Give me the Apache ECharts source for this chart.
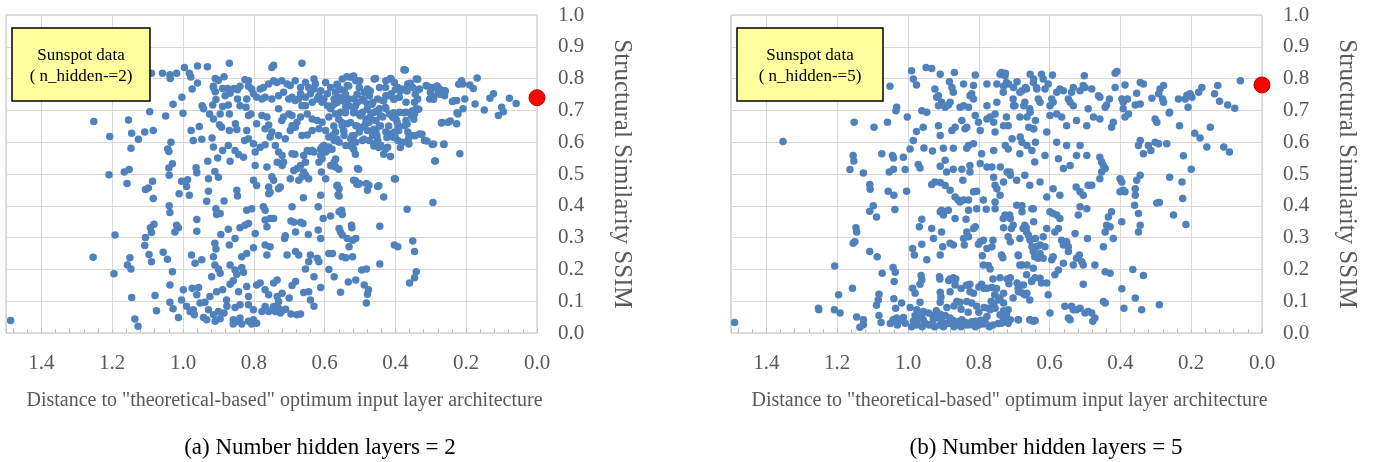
<!DOCTYPE html>
<html>
<head>
<meta charset="utf-8">
<title>SSIM vs distance to optimum input layer</title>
<script src="https://cdn.jsdelivr.net/npm/echarts@6/dist/echarts.min.js"></script>
<style>
html, body { margin: 0; padding: 0; background: #fff; }
#chart { width: 1379px; height: 462px; }
</style>
</head>
<body>
<div id="chart"></div>
<script>
// [distance to optimum, SSIM]
var hidden2Points = [
  [1.089,0.817],[1.058,0.817],[1.037,0.812],[1.036,0.80],[1.018,0.817],[0.996,0.835],[0.982,0.817],[0.978,0.805],[0.959,0.84],[0.931,0.837],
  [0.869,0.848],[0.909,0.80],[0.90,0.795],[0.914,0.776],[0.884,0.806],[0.959,0.786],[0.974,0.767],[0.846,0.765],[0.839,0.776],[0.815,0.776],
  [0.806,0.767],[0.801,0.752],[0.82,0.736],[0.792,0.741],[0.815,0.793],[0.825,0.796],[0.914,0.772],[0.909,0.759],[0.888,0.769],[0.874,0.769],
  [0.867,0.754],[0.856,0.769],
  [1.003,0.741],[1.028,0.719],[0.946,0.715],[0.942,0.705],[0.925,0.689],[0.916,0.717],[0.895,0.689],[0.888,0.712],[0.872,0.717],[0.881,0.746],
  [0.907,0.734],[0.869,0.689],[0.846,0.736],[0.839,0.715],[0.822,0.71],[0.815,0.684],[0.808,0.689],[1.094,0.696],[1.049,0.682],[1.0,0.691],
  [1.252,0.665],[1.154,0.67],[1.207,0.618],[1.145,0.628],[1.108,0.632],[1.084,0.637],[1.126,0.609],[0.977,0.637],[0.954,0.649],[0.971,0.605],
  [0.947,0.609],[0.918,0.613],[0.897,0.655],[0.891,0.647],[0.869,0.637],[0.852,0.658],[0.848,0.64],[0.82,0.637],[0.826,0.605],[0.815,0.611],
  [0.801,0.595],[0.792,0.658],[0.914,0.673],[1.034,0.60],
  [1.147,0.581],[1.043,0.579],[1.04,0.571],[0.914,0.585],[0.888,0.574],[0.872,0.59],[0.853,0.574],[0.843,0.561],[0.829,0.553],[0.796,0.569],
  [0.867,0.54],[0.93,0.54],[0.902,0.55],[0.963,0.52],[0.961,0.504],[0.91,0.508],[0.90,0.49],[0.796,0.527],[1.03,0.532],[1.04,0.519],
  [1.209,0.498],[1.166,0.506],[1.152,0.514],
  [1.158,0.47],[1.106,0.451],[1.098,0.456],[1.086,0.477],[1.084,0.423],[1.039,0.496],[1.004,0.477],[0.987,0.482],[0.99,0.461],[1.011,0.438],
  [0.982,0.433],[0.928,0.485],[0.928,0.446],[0.933,0.414],[0.884,0.415],[0.848,0.449],[0.846,0.431],[0.801,0.48],[0.792,0.464],
  [1.039,0.40],[1.037,0.379],[0.907,0.391],[0.905,0.373],[0.895,0.376],[0.82,0.386],[0.806,0.391],[0.961,0.357],[1.192,0.308],[1.106,0.30],
  [1.089,0.316],[1.082,0.342],[1.092,0.331],[1.023,0.318],[1.018,0.339],[1.013,0.331],[0.961,0.32],[0.872,0.326],[0.893,0.31],[0.839,0.331],
  [0.825,0.339],[0.815,0.344],[0.796,0.313],
  [1.108,0.275],[1.056,0.254],[1.044,0.232],[1.096,0.247],[1.089,0.224],[1.15,0.237],[1.157,0.214],[1.147,0.201],[1.254,0.238],[1.195,0.186],
  [1.03,0.193],[0.976,0.245],[0.966,0.219],[0.947,0.23],[0.91,0.282],[0.907,0.264],[0.869,0.277],[0.853,0.297],[0.834,0.24],[0.82,0.25],
  [0.801,0.268],[0.914,0.24],[0.91,0.214],[0.895,0.188],[0.90,0.201],[0.867,0.214],[0.853,0.198],[0.834,0.206],[0.829,0.191],[0.848,0.185],
  [0.919,0.177],
  [1.037,0.151],[1.145,0.112],[1.079,0.118],[0.999,0.136],[0.974,0.141],[0.961,0.12],[0.956,0.143],[1.004,0.104],[1.037,0.097],[0.952,0.094],
  [0.924,0.115],[0.905,0.13],[0.888,0.136],[0.867,0.153],[0.858,0.164],[0.843,0.13],[0.82,0.146],[0.815,0.115],[0.792,0.151],
  [1.075,0.07],[1.487,0.039],[1.136,0.044],[1.127,0.021],[1.028,0.076],[1.013,0.049],[0.99,0.084],[0.98,0.068],[0.971,0.073],[0.968,0.057],
  [0.942,0.049],[0.933,0.042],[0.928,0.073],[0.914,0.057],[0.90,0.068],[0.895,0.045],[0.884,0.063],[0.876,0.084],[0.877,0.104],[0.909,0.037],
  [0.858,0.042],[0.846,0.037],[0.839,0.047],[0.815,0.037],[0.801,0.042],[0.792,0.031],[0.853,0.08],[0.839,0.089],[0.815,0.089],[0.801,0.073],
  [0.938,0.097],[0.858,0.028],[0.834,0.028],[0.806,0.028],
  [0.782,0.767],[0.773,0.772],[0.758,0.783],[0.744,0.793],[0.735,0.788],[0.721,0.793],[0.706,0.783],[0.697,0.778],[0.683,0.793],[0.668,0.772],
  [0.654,0.788],[0.645,0.772],[0.63,0.799],[0.626,0.783],[0.611,0.762],[0.597,0.788],[0.583,0.772],[0.564,0.778],[0.55,0.799],[0.545,0.762],
  [0.536,0.778],[0.526,0.804],[0.512,0.793],[0.502,0.772],[0.488,0.757],[0.479,0.767],[0.474,0.746],[0.46,0.799],[0.445,0.772],[0.427,0.793],
  [0.412,0.799],[0.403,0.788],[0.393,0.772],[0.384,0.767],[0.374,0.767],[0.365,0.783],[0.351,0.772],[0.341,0.799],[0.332,0.767],[0.313,0.778],
  [0.299,0.772],[0.289,0.772],[0.275,0.767],[0.261,0.762],[0.294,0.741],[0.303,0.736],[0.28,0.752],[0.261,0.746],[0.337,0.736],[0.346,0.726],
  [0.37,0.726],[0.389,0.741],[0.403,0.736],[0.412,0.752],[0.427,0.746],[0.436,0.731],[0.45,0.736],[0.464,0.726],[0.479,0.72],[0.493,0.736],
  [0.507,0.726],[0.517,0.736],[0.531,0.736],[0.55,0.731],[0.559,0.741],[0.573,0.736],[0.592,0.752],[0.607,0.726],[0.621,0.736],[0.635,0.726],
  [0.654,0.715],[0.668,0.752],[0.692,0.741],[0.701,0.736],[0.716,0.757],[0.73,0.746],[0.749,0.736],[0.768,0.741],[0.777,0.736],
  [0.749,0.835],[0.744,0.842],[0.664,0.848],[0.376,0.828],[0.169,0.802],[0.213,0.793],[0.21,0.783],[0.19,0.78],[0.18,0.769],[0.123,0.752],
  [0.133,0.738],[0.078,0.738],[0.059,0.722],[0.10,0.71],[0.095,0.696],[0.109,0.684],[0.149,0.701],[0.175,0.72],[0.204,0.736],[0.227,0.731],
  [0.239,0.728],[0.209,0.705],[0.223,0.689],[0.227,0.658],[0.251,0.663],[0.27,0.66],[0.218,0.564],[0.263,0.593],[0.296,0.593],[0.289,0.541],
  [0.294,0.41],[0.367,0.389],[0.403,0.485],
  [0.777,0.684],[0.763,0.679],[0.758,0.654],[0.73,0.705],[0.716,0.679],[0.721,0.668],[0.701,0.689],[0.692,0.684],[0.683,0.731],[0.673,0.736],
  [0.664,0.715],[0.654,0.741],[0.64,0.752],[0.63,0.767],[0.616,0.746],[0.602,0.736],[0.592,0.715],[0.583,0.705],[0.573,0.72],[0.555,0.694],
  [0.54,0.71],[0.531,0.715],[0.517,0.70],[0.502,0.689],[0.493,0.694],[0.483,0.673],[0.469,0.689],[0.46,0.694],[0.445,0.705],[0.427,0.705],
  [0.417,0.689],[0.408,0.679],[0.398,0.673],[0.389,0.694],[0.37,0.694],[0.355,0.684],[0.346,0.689],[0.341,0.705],[0.37,0.668],[0.374,0.652],
  [0.403,0.632],[0.417,0.626],[0.427,0.632],[0.445,0.652],[0.455,0.632],[0.464,0.621],[0.479,0.637],[0.502,0.632],[0.517,0.621],[0.526,0.611],
  [0.545,0.621],[0.569,0.632],[0.578,0.621],[0.597,0.637],[0.616,0.642],[0.635,0.637],[0.649,0.623],[0.664,0.621],[0.683,0.647],[0.692,0.652],
  [0.678,0.663],[0.668,0.679],[0.649,0.689],[0.635,0.673],[0.621,0.668],[0.607,0.663],[0.588,0.679],[0.569,0.689],[0.55,0.652],[0.536,0.658],
  [0.512,0.652],[0.493,0.647],[0.474,0.663],[0.455,0.668],[0.436,0.679],[0.393,0.652],[0.365,0.632],[0.351,0.621],[0.332,0.626],[0.318,0.605],
  [0.365,0.605],[0.379,0.60],[0.393,0.605],[0.408,0.616],[0.422,0.584],[0.441,0.59],[0.45,0.605],[0.46,0.595],[0.474,0.605],[0.493,0.605],
  [0.512,0.60],[0.526,0.59],[0.54,0.59],[0.559,0.60],[0.573,0.605],[0.588,0.616],[0.602,0.59],[0.611,0.579],[0.597,0.579],[0.635,0.574],
  [0.739,0.59],[0.754,0.616],[0.749,0.632],[0.768,0.642],[0.73,0.621],[0.711,0.611],[0.697,0.637],
  [0.537,0.806],[0.518,0.808],[0.501,0.793],[0.456,0.80],[0.414,0.80],[0.372,0.827],[0.358,0.785],[0.337,0.798],[0.311,0.777],[0.282,0.777],
  [0.259,0.761],[0.235,0.73],[0.221,0.782],[0.565,0.782],[0.555,0.766],[0.532,0.777],[0.569,0.756],[0.541,0.751],[0.508,0.751],[0.471,0.761],
  [0.428,0.772],[0.40,0.766],[0.386,0.761],[0.367,0.761],[0.334,0.766],[0.344,0.751],[0.301,0.756],[0.273,0.751],[0.292,0.735],[0.489,0.73],
  [0.466,0.719],[0.433,0.73],[0.419,0.746],[0.405,0.735],[0.579,0.714],[0.565,0.725],[0.541,0.725],[0.513,0.714],[0.48,0.704],[0.452,0.698],
  [0.428,0.709],[0.405,0.693],[0.376,0.693],[0.353,0.698],[0.334,0.704],[0.541,0.693],[0.518,0.693],[0.499,0.683],[0.471,0.677],[0.442,0.683],
  [0.405,0.677],[0.395,0.662],[0.367,0.657],[0.348,0.672],[0.56,0.672],[0.574,0.651],[0.551,0.662],[0.527,0.662],[0.508,0.651],[0.485,0.657],
  [0.461,0.641],[0.442,0.651],[0.419,0.651],[0.391,0.636],[0.546,0.636],[0.565,0.609],[0.522,0.62],[0.489,0.609],[0.452,0.62],[0.424,0.615],
  [0.40,0.615],[0.362,0.615],[0.344,0.62],[0.325,0.625],[0.311,0.604],[0.292,0.594],[0.263,0.594],[0.245,0.667],[0.268,0.662],[0.226,0.693],
  [0.386,0.583],[0.362,0.594],[0.461,0.588],[0.447,0.583],[0.428,0.578],[0.518,0.578],[0.527,0.588],[0.513,0.562],[0.433,0.562],[0.414,0.555],
  [0.579,0.578],[0.569,0.547],[0.579,0.526],[0.56,0.515],[0.504,0.515],[0.287,0.541],[0.40,0.484],[0.513,0.479],[0.565,0.463],[0.504,0.468],
  [0.475,0.465],[0.447,0.463],
  [0.611,0.297],[0.559,0.329],[0.555,0.318],[0.55,0.308],[0.536,0.297],[0.521,0.292],[0.512,0.297],[0.559,0.381],[0.552,0.386],[0.55,0.373],
  [0.583,0.368],[0.604,0.36],[0.618,0.324],[0.524,0.339],[0.523,0.331],[0.562,0.435],[0.559,0.431],[0.564,0.465],[0.559,0.454],[0.518,0.48],
  [0.509,0.468],[0.502,0.47],[0.482,0.47],[0.479,0.449],[0.507,0.517],[0.597,0.485],[0.609,0.506],[0.611,0.433],[0.618,0.397],[0.692,0.397],
  [0.66,0.425],[0.646,0.31],[0.682,0.318],[0.695,0.352],[0.687,0.348],[0.668,0.348],[0.661,0.344],[0.711,0.306],[0.713,0.297],[0.706,0.245],
  [0.682,0.256],[0.673,0.245],[0.64,0.245],[0.645,0.224],[0.621,0.235],[0.616,0.224],[0.654,0.201],[0.63,0.177],[0.588,0.25],[0.578,0.25],
  [0.55,0.24],[0.54,0.237],[0.521,0.24],[0.531,0.271],[0.754,0.271],[0.768,0.277],[0.763,0.245],[0.754,0.36],[0.768,0.355],[0.744,0.36],
  [0.773,0.397],[0.768,0.386],[0.763,0.334],[0.754,0.443],[0.758,0.438],[0.725,0.459],[0.73,0.454],[0.758,0.459],[0.749,0.491],[0.744,0.48],
  [0.697,0.485],[0.673,0.48],[0.664,0.491],[0.654,0.496],[0.645,0.485],[0.659,0.506],[0.687,0.511],[0.678,0.517],[0.668,0.527],[0.654,0.537],
  [0.763,0.522],[0.716,0.537],[0.72,0.527],[0.616,0.537],[0.607,0.548],[0.611,0.558],[0.583,0.527],[0.569,0.522],[0.573,0.537],[0.597,0.569],
  [0.592,0.574],[0.588,0.585],[0.607,0.585],[0.64,0.571],[0.63,0.569],[0.659,0.558],[0.649,0.574],[0.692,0.564],[0.684,0.562],[0.73,0.569],
  [0.72,0.558],[0.734,0.537],[0.768,0.592],[0.782,0.584],
  [0.351,0.289],[0.346,0.256],[0.341,0.193],[0.346,0.174],[0.36,0.157],[0.403,0.277],[0.393,0.271],[0.444,0.217],[0.444,0.336],[0.433,0.428],
  [0.45,0.461],[0.482,0.094],[0.479,0.122],[0.476,0.136],[0.488,0.151],[0.482,0.201],[0.495,0.198],[0.512,0.167],[0.533,0.16],[0.555,0.128],
  [0.573,0.177],[0.588,0.20],[0.611,0.143],[0.63,0.084],[0.64,0.104],[0.645,0.13],[0.659,0.127],[0.668,0.06],[0.678,0.057],[0.695,0.06],
  [0.692,0.149],[0.682,0.162],
  [0.739,0.068],[0.73,0.078],[0.725,0.063],[0.749,0.073],[0.758,0.068],[0.744,0.083],[0.734,0.115],[0.73,0.099],[0.758,0.12],[0.768,0.136],
  [0.734,0.167],[0.744,0.157],[0.782,0.157],[0.777,0.068],[0.768,0.083],[0.72,0.07],[0.71,0.075],[0.70,0.11],[0.72,0.125]
];

var hidden5Points = [
  [0.99,0.825],[0.949,0.835],[0.933,0.832],[0.909,0.814],[0.869,0.819],[0.985,0.799],[0.976,0.78],[1.051,0.776],[0.924,0.767],[0.914,0.746],
  [0.883,0.79],[0.876,0.772],[0.872,0.757],[0.843,0.783],[0.825,0.746],[0.82,0.752],[0.815,0.778],[0.81,0.811],[0.777,0.783],[0.749,0.783],
  [0.74,0.814],[0.725,0.817],[0.73,0.776],[0.716,0.783],[0.692,0.79],[0.702,0.772],[0.678,0.762],[0.668,0.772],[0.655,0.814],[0.645,0.799],
  [0.636,0.767],[0.919,0.741],[0.815,0.736],
  [1.032,0.71],[1.034,0.699],[1.002,0.679],[0.961,0.699],[0.947,0.694],[0.914,0.715],[0.905,0.726],[0.895,0.71],[0.886,0.717],[0.881,0.726],
  [0.853,0.71],[0.843,0.715],[0.829,0.71],[0.848,0.668],[0.81,0.684],[0.801,0.663],[0.777,0.715],[0.768,0.679],[0.754,0.689],[0.749,0.726],
  [0.777,0.673],[0.758,0.663],[0.722,0.679],[0.702,0.715],[0.673,0.715],[0.664,0.679],[0.659,0.647],[0.64,0.668],[0.645,0.642],[0.655,0.694],
  [1.152,0.663],[1.096,0.647],[1.058,0.663],[0.976,0.634],[0.957,0.647],[0.914,0.652],[0.909,0.621],[0.876,0.637],[0.867,0.647],[0.839,0.642],
  [0.834,0.647],[0.796,0.637],[0.754,0.632],[0.73,0.652],[0.706,0.611],[0.725,0.59],[0.683,0.616],[0.678,0.60],[0.664,0.59],[0.65,0.574],
  [0.64,0.60],
  [1.353,0.602],[0.985,0.605],[0.994,0.579],[0.955,0.582],[0.931,0.572],[0.90,0.581],[0.872,0.581],[0.834,0.581],[0.829,0.59],[0.815,0.595],
  [0.792,0.564],[0.758,0.574],[1.155,0.558],[1.153,0.541],[1.074,0.564],[1.044,0.558],[1.041,0.55],[1.013,0.553],[1.164,0.514],[1.126,0.503],
  [1.053,0.506],[1.041,0.515],[1.008,0.514],[0.971,0.53],[0.966,0.519],[0.909,0.524],[0.895,0.543],[0.891,0.506],[0.872,0.515],[0.848,0.515],
  [0.825,0.527],[0.825,0.506],[0.796,0.533],[0.777,0.522],[0.763,0.522],[0.758,0.49],[0.72,0.506],[0.711,0.496],[0.739,0.522],
  [1.108,0.467],[1.107,0.452],[1.056,0.446],[1.04,0.433],[1.004,0.446],[0.933,0.467],[0.924,0.475],[0.909,0.473],[0.895,0.464],[0.881,0.449],
  [0.845,0.48],[0.867,0.428],[0.858,0.418],[0.853,0.412],[0.843,0.418],[0.829,0.418],[0.815,0.444],[0.806,0.446],[0.787,0.418],[0.754,0.465],
  [0.749,0.454],[0.74,0.433],[0.754,0.412],[0.73,0.475],
  [1.098,0.40],[1.108,0.383],[1.089,0.365],[1.037,0.388],[0.961,0.358],[0.968,0.334],[0.933,0.329],[0.909,0.381],[0.905,0.386],[0.90,0.371],
  [0.886,0.386],[0.867,0.36],[0.836,0.358],[0.829,0.386],[0.806,0.391],[0.779,0.389],[0.754,0.391],[0.73,0.331],[0.713,0.371],[0.711,0.36],
  [0.678,0.40],[0.678,0.381],[0.65,0.391],[0.666,0.331],[0.645,0.35],
  [1.147,0.331],[1.145,0.318],[1.15,0.287],[1.155,0.282],[1.108,0.256],[1.087,0.24],[1.207,0.211],[1.157,0.141],[1.196,0.12],[1.253,0.078],
  [1.252,0.073],[1.208,0.073],[1.192,0.063],[1.145,0.05],[1.126,0.042],[1.136,0.018],[1.126,0.026],[1.073,0.188],[1.042,0.206],[1.036,0.191],
  [1.039,0.162],[1.082,0.122],[1.084,0.104],[1.089,0.087],[1.04,0.108],[1.035,0.078],[1.018,0.094],[0.994,0.08],[1.082,0.055],[1.076,0.033],
  [1.49,0.033],
  [0.987,0.266],[0.982,0.245],[0.961,0.279],[0.947,0.23],[0.928,0.297],[0.909,0.245],[0.902,0.271],[0.905,0.318],[0.881,0.282],[0.872,0.277],
  [0.843,0.297],[0.841,0.277],[0.829,0.303],[0.834,0.318],[0.815,0.329],[0.81,0.334],[0.801,0.279],[0.796,0.287],[0.787,0.292],[0.79,0.243],
  [0.777,0.266],[0.763,0.271],[0.76,0.292],[0.732,0.237],[0.711,0.287],[0.688,0.243],[0.678,0.214],[0.664,0.214],[0.655,0.292],[0.65,0.271],
  [0.64,0.297],
  [0.987,0.141],[0.98,0.125],[0.966,0.153],[0.961,0.167],[0.963,0.181],[0.911,0.177],[0.909,0.128],[0.907,0.113],[0.909,0.097],[0.881,0.17],
  [0.872,0.174],[0.867,0.151],[0.881,0.13],[0.829,0.151],[0.825,0.153],[0.815,0.125],[0.792,0.153],[0.777,0.141],[0.763,0.143],[0.787,0.214],
  [0.773,0.212],[0.768,0.201],[0.74,0.174],[0.73,0.125],[0.711,0.174],[0.692,0.157],[0.688,0.13],[0.674,0.151],[0.664,0.125],[0.65,0.164],
  [0.641,0.174],
  [1.042,0.042],[1.032,0.047],[1.013,0.049],[1.008,0.031],[0.985,0.037],[0.975,0.031],[0.966,0.047],[0.957,0.042],[0.942,0.063],[0.928,0.042],
  [0.914,0.049],[0.905,0.037],[0.891,0.031],[0.881,0.047],[0.872,0.039],[0.858,0.026],[0.848,0.042],[0.839,0.034],[0.825,0.026],[0.81,0.037],
  [0.796,0.039],[0.787,0.028],[0.777,0.052],[0.768,0.073],[0.754,0.078],[0.74,0.057],[0.725,0.037],[0.711,0.042],[0.688,0.042],[0.655,0.042],
  [0.641,0.039],[0.862,0.099],[0.853,0.097],[0.834,0.099],[0.82,0.094],[0.806,0.084],[0.773,0.078],[0.758,0.091],[0.744,0.104],[0.73,0.094],
  [0.73,0.07],[0.966,0.097],[0.975,0.073],[0.957,0.068],
  [1.05,0.03],[1.03,0.025],[1.02,0.04],[0.99,0.02],[0.975,0.025],[0.96,0.02],[0.95,0.03],[0.94,0.025],[0.925,0.02],[0.91,0.025],
  [0.90,0.02],[0.885,0.03],[0.87,0.02],[0.86,0.035],[0.85,0.02],[0.835,0.025],[0.82,0.035],[0.81,0.02],[0.80,0.025],[0.79,0.04],
  [0.78,0.03],[0.77,0.02],[0.76,0.025],[0.745,0.03],[0.895,0.055],[0.91,0.06],[0.93,0.055],[0.96,0.06],[0.98,0.055],[0.92,0.07],
  [0.89,0.08],[0.87,0.085],[0.85,0.075],[0.83,0.065],[0.80,0.065],[0.785,0.08],[0.765,0.10],[0.755,0.12],[0.75,0.14],[0.74,0.11],
  [0.91,0.17],[0.885,0.165],[0.865,0.17],[0.85,0.14],[0.835,0.15],[0.825,0.13],[0.80,0.145],[0.785,0.14],[0.76,0.17],[0.72,0.17],
  [0.715,0.155],
  [0.061,0.793],[0.125,0.778],[0.17,0.772],[0.179,0.757],[0.208,0.746],[0.203,0.752],[0.212,0.748],[0.217,0.736],[0.198,0.741],[0.134,0.752],
  [0.12,0.729],[0.097,0.717],[0.077,0.707],[0.236,0.736],[0.209,0.71],[0.261,0.694],[0.278,0.778],[0.288,0.767],[0.292,0.752],[0.311,0.738],
  [0.281,0.736],[0.278,0.726],[0.335,0.783],[0.344,0.788],[0.354,0.754],[0.344,0.72],[0.358,0.717],[0.387,0.78],[0.415,0.817],[0.41,0.822],
  [0.415,0.772],[0.396,0.736],[0.392,0.726],[0.38,0.736],[0.377,0.689],[0.387,0.679],[0.392,0.705],[0.431,0.736],[0.439,0.717],[0.443,0.71],
  [0.462,0.746],[0.458,0.741],[0.481,0.767],[0.50,0.772],[0.505,0.778],[0.533,0.772],[0.538,0.757],[0.547,0.736],[0.542,0.726],[0.533,0.715],
  [0.561,0.762],[0.571,0.767],[0.58,0.757],[0.594,0.736],[0.59,0.726],[0.599,0.715],[0.613,0.767],[0.604,0.783],[0.618,0.799],[0.623,0.814],
  [0.646,0.788],[0.637,0.772],[0.632,0.736],[0.627,0.726],[0.665,0.767],[0.67,0.726],[0.656,0.705],[0.684,0.757],[0.698,0.715],[0.703,0.736],
  [0.722,0.788],[0.731,0.757],[0.736,0.819],[0.726,0.809],[0.592,0.811],[0.502,0.809],[0.514,0.762],[0.491,0.705],[0.476,0.679],[0.458,0.673],
  [0.42,0.663],[0.425,0.647],[0.599,0.684],[0.58,0.689],[0.566,0.679],[0.552,0.652],[0.524,0.668],[0.495,0.652],[0.684,0.679],[0.717,0.652],
  [0.646,0.642],[0.608,0.632],
  [0.146,0.647],[0.19,0.628],[0.175,0.613],[0.156,0.585],[0.108,0.585],[0.092,0.569],[0.233,0.652],[0.262,0.692],[0.302,0.673],[0.297,0.663],
  [0.292,0.595],[0.302,0.60],[0.269,0.595],[0.314,0.574],[0.321,0.59],[0.335,0.564],[0.349,0.59],[0.344,0.605],[0.222,0.557],[0.20,0.515],
  [0.226,0.475],[0.224,0.423],[0.261,0.49],[0.25,0.371],[0.215,0.341],[0.29,0.41],[0.297,0.409],[0.344,0.496],[0.354,0.48],[0.358,0.454],
  [0.358,0.433],[0.36,0.402],[0.349,0.376],[0.344,0.339],[0.349,0.318],[0.401,0.485],[0.396,0.475],[0.392,0.449],[0.387,0.444],[0.401,0.444],
  [0.396,0.35],[0.425,0.381],[0.434,0.365],[0.439,0.339],[0.429,0.334],[0.443,0.318],[0.42,0.297],[0.448,0.271],[0.458,0.553],[0.453,0.538],
  [0.448,0.527],[0.443,0.517],[0.453,0.506],[0.458,0.485],[0.481,0.465],[0.491,0.465],[0.505,0.433],[0.514,0.444],[0.525,0.459],[0.495,0.391],
  [0.514,0.397],[0.519,0.371],[0.493,0.297],[0.528,0.313],[0.516,0.245],[0.524,0.235],[0.533,0.214],[0.561,0.219],[0.472,0.214],[0.505,0.214],
  [0.509,0.224],[0.505,0.153],[0.547,0.271],[0.552,0.287],[0.566,0.292],[0.58,0.371],[0.571,0.36],[0.575,0.329],[0.585,0.318],[0.599,0.381],
  [0.59,0.376],[0.608,0.329],[0.618,0.303],[0.627,0.277],[0.637,0.271],[0.646,0.256],[0.627,0.25],[0.632,0.235],[0.642,0.24],[0.656,0.297],
  [0.665,0.318],[0.66,0.308],[0.675,0.329],[0.67,0.339],[0.684,0.297],[0.689,0.245],[0.703,0.339],[0.708,0.329],[0.726,0.371],[0.731,0.36],
  [0.717,0.303],[0.736,0.245],[0.684,0.214],[0.665,0.183],[0.646,0.204],[0.618,0.235],[0.613,0.271],[0.594,0.23],[0.59,0.24],[0.561,0.277],
  [0.547,0.256],[0.608,0.428],[0.656,0.465],[0.67,0.496],[0.693,0.48],[0.627,0.475],[0.59,0.454],[0.571,0.433],[0.712,0.506],[0.693,0.402],
  [0.646,0.391],[0.561,0.517],[0.542,0.527],[0.524,0.558],[0.575,0.548],[0.613,0.558],[0.642,0.538],[0.684,0.564],[0.717,0.579],[0.58,0.60],
  [0.552,0.59],[0.514,0.59],[0.495,0.558],
  [0.396,0.139],[0.365,0.20],[0.335,0.181],[0.358,0.11],[0.34,0.073],[0.29,0.089],[0.39,0.078],[0.448,0.099],[0.443,0.094],[0.429,0.188],
  [0.443,0.193],[0.472,0.047],[0.478,0.037],[0.481,0.063],[0.491,0.068],[0.50,0.063],[0.514,0.078],[0.524,0.073],[0.538,0.084],[0.533,0.073],
  [0.542,0.042],[0.547,0.047],[0.557,0.084],[0.599,0.063],[0.604,0.12],[0.608,0.157],[0.627,0.172],[0.623,0.157],[0.651,0.162],[0.656,0.104],
  [0.67,0.12],[0.675,0.125],[0.684,0.13],[0.689,0.141],[0.703,0.11],[0.717,0.073],[0.689,0.042],[0.656,0.042],[0.646,0.037],[0.642,0.039],
  [0.722,0.057],[0.731,0.047],[0.736,0.031],[0.717,0.031],[0.585,0.183],[0.575,0.198]
];

var optimum2 = [[0, 0.74]];
var optimum5 = [[0, 0.78]];

var boxLabels = ['Sunspot data\n( n_hidden-=2)', 'Sunspot data\n( n_hidden-=5)'];
var captions = ['(a) Number hidden layers = 2', '(b) Number hidden layers = 5'];
var xName = 'Distance to "theoretical-based" optimum input layer architecture';
var yName = 'Structural Similarity SSIM';

var serif = '"Liberation Serif", "DejaVu Serif", serif';
var gridLefts = [6, 731];

function makeX(i) {
  return {
    gridIndex: i, type: 'value', min: 0, max: 1.5, interval: 0.2, inverse: true,
    axisLine: { show: false },
    axisTick: { show: true, inside: true, length: 4, lineStyle: { color: '#bfbfbf' } },
    minorTick: { show: true, splitNumber: 5, length: 4, lineStyle: { color: '#bfbfbf' } },
    splitLine: { show: true, lineStyle: { color: '#d9d9d9', width: 1 } },
    axisLabel: {
      fontFamily: serif, fontSize: 21, color: '#595959', margin: 20, showMaxLabel: false,
      formatter: function (v) { return v.toFixed(1); }
    },
    name: xName, nameLocation: 'middle', nameGap: 58,
    nameTextStyle: { fontFamily: serif, fontSize: 20, color: '#595959', padding: [0, 0, 0, 26] }
  };
}

function makeY(i) {
  return {
    gridIndex: i, type: 'value', position: 'right', min: 0, max: 1, interval: 0.1,
    axisLine: { show: false }, axisTick: { show: false },
    splitLine: { show: true, lineStyle: { color: '#d9d9d9', width: 1 } },
    axisLabel: {
      fontFamily: serif, fontSize: 21, color: '#595959', margin: 21,
      formatter: function (v) { return v.toFixed(1); }
    },
    name: yName, nameLocation: 'middle', nameRotate: -90, nameGap: 72,
    nameTextStyle: { fontFamily: serif, fontSize: 25, color: '#595959' }
  };
}

function blueSeries(i, data) {
  return {
    type: 'scatter', xAxisIndex: i, yAxisIndex: i, data: data,
    symbolSize: 7.5, itemStyle: { color: '#4f81bd', opacity: 1 }, silent: true
  };
}

function redSeries(i, data) {
  return {
    type: 'scatter', xAxisIndex: i, yAxisIndex: i, data: data, clip: false, z: 5,
    symbolSize: 16, itemStyle: { color: '#ff0000', opacity: 1, borderColor: '#c00000', borderWidth: 1 }, silent: true
  };
}

var graphics = [];
var boxWidths = [138, 146];
[0, 1].forEach(function (i) {
  var bx = gridLefts[i] + 6;
  graphics.push({
    type: 'rect', x: bx, y: 28, z: 100,
    shape: { width: boxWidths[i], height: 73 },
    style: { fill: '#ffff9f', stroke: '#000', lineWidth: 1.5 }
  });
  graphics.push({
    type: 'text', x: bx + boxWidths[i] / 2, y: 66, z: 101,
    style: {
      text: boxLabels[i], fill: '#000', fontFamily: serif, fontSize: 17, lineHeight: 21,
      align: 'center', verticalAlign: 'middle'
    }
  });
  graphics.push({
    type: 'text', x: [320, 1046][i], y: 448, z: 101,
    style: {
      text: captions[i], fill: '#000', fontFamily: serif, fontSize: 23,
      align: 'center', verticalAlign: 'middle'
    }
  });
});

var chart = echarts.init(document.getElementById('chart'));
chart.setOption({
  animation: false,
  backgroundColor: '#ffffff',
  grid: gridLefts.map(function (l) {
    return { left: l, top: 15, width: 531, height: 318, show: true, borderColor: '#bfbfbf', borderWidth: 1, backgroundColor: 'transparent' };
  }),
  xAxis: [makeX(0), makeX(1)],
  yAxis: [makeY(0), makeY(1)],
  series: [
    blueSeries(0, hidden2Points), redSeries(0, optimum2),
    blueSeries(1, hidden5Points), redSeries(1, optimum5)
  ],
  graphic: graphics
});
</script>
</body>
</html>
